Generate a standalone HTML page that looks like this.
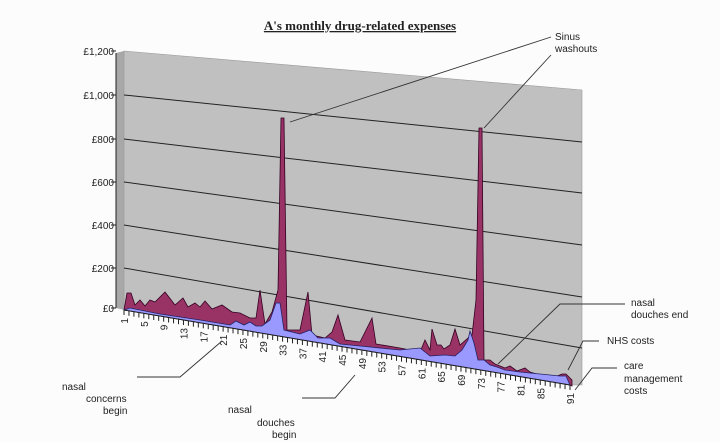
<!DOCTYPE html>
<html><head><meta charset="utf-8"><style>
body{margin:0;background:#fdfdfd}
svg{display:block}
text{font-family:"Liberation Sans",sans-serif;font-size:10px;fill:#222}
</style></head><body>
<svg width="720" height="442" viewBox="0 0 720 442">
<rect width="720" height="442" fill="#fcfcfc"/>
<text x="360" y="30" text-anchor="middle" style="font-family:'Liberation Serif',serif;font-weight:bold;font-size:13px;text-decoration:underline">A's monthly drug-related expenses</text>
<polygon points="116,53 124,51 124,310 116,308" fill="#a8a8a8"/>
<polygon points="124,51 582,90 582,385 570,385 124,310" fill="#c0c0c0" stroke="#999" stroke-width="0.6"/>
<g stroke="#222" stroke-width="1" fill="none">
<line x1="124" y1="95" x2="582" y2="142"/>
<line x1="124" y1="139" x2="582" y2="193"/>
<line x1="124" y1="182" x2="582" y2="245"/>
<line x1="124" y1="225" x2="582" y2="297"/>
<line x1="124" y1="268" x2="582" y2="348"/>
<line x1="116" y1="53" x2="116" y2="308"/>
</g>
<g text-anchor="end">
<text x="114" y="55">£1,200</text>
<text x="114" y="99">£1,000</text>
<text x="114" y="143">£800</text>
<text x="114" y="186">£600</text>
<text x="114" y="229">£400</text>
<text x="114" y="272">£200</text>
<text x="114" y="312">£0</text>
</g>
<g stroke="#222"><line x1="111" y1="51" x2="116" y2="51"/><line x1="111" y1="95" x2="116" y2="95"/><line x1="111" y1="139" x2="116" y2="139"/><line x1="111" y1="182" x2="116" y2="182"/><line x1="111" y1="225" x2="116" y2="225"/><line x1="111" y1="268" x2="116" y2="268"/><line x1="111" y1="308" x2="116" y2="308"/></g>
<polygon fill="#993366" stroke="#330022" stroke-width="0.8" points="124,310 127,293 131,293 135,305 140,300 145,306 150,300 155,302 165,292 175,305 183,298 188,307 195,303 200,307 205,301 212,309 222,305 232,312 240,313 250,318 256,318 260,290 265,324 272,312 278,290 281,118 284,118 287,330 300,330 308,292 312,335 325,338 332,332 338,315 345,340 360,342 372,318 376,344 400,348 420,352 425,340 430,350 432,329 437,345 441,345 444,349 450,345 455,329 460,345 468,338 472,335 476,300 479,128 482,128 484,360 490,360 495,364 505,368 510,366 517,371 525,368 530,372 540,375 555,377 562,374 566,374 572,380 572,386 570,385"/>
<polygon fill="#9999ff" stroke="#222266" stroke-width="0.8" points="124,310 130,308 160,314 200,320 230,325 236,321 244,325 250,322 256,326 262,326 270,320 276,303 280,303 284,330 300,334 310,330 318,338 330,338 340,344 360,346 400,350 420,348 430,356 445,355 455,356 462,350 468,340 470,331 474,343 478,360 484,360 490,365 497,367 505,370 520,372 540,374 560,376 566,376 570,385"/>
<line x1="124" y1="310" x2="570" y2="385" stroke="#222" stroke-width="1"/>
<g id="ticks" stroke="#222" stroke-width="1"></g>
<g id="lbl"></g>
<g stroke="#333" stroke-width="0.9" fill="none">
<polyline points="551,37 290,122"/>
<polyline points="551,55 484,128"/>
<polyline points="137,377 180,377 222,341"/>
<polyline points="302,398 335,398 355,375"/>
<polyline points="625,304 560,304 498,364"/>
<polyline points="599,341 583,341 568,370"/>
<polyline points="617,368 592,368 575,390"/>
</g>
<text x="555" y="40">Sinus</text>
<text x="555" y="52">washouts</text>
<text x="62" y="390">nasal</text>
<text x="86" y="402">concerns</text>
<text x="103" y="414">begin</text>
<text x="228" y="413">nasal</text>
<text x="257" y="426">douches</text>
<text x="272" y="438">begin</text>
<text x="631" y="306">nasal</text>
<text x="631" y="318">douches end</text>
<text x="607" y="344">NHS costs</text>
<text x="624" y="369">care</text>
<text x="624" y="382">management</text>
<text x="624" y="394">costs</text>
</svg>
<script>
(function(){
var ns="http://www.w3.org/2000/svg",t=document.getElementById("ticks"),l=document.getElementById("lbl");
for(var i=1;i<=91;i++){
 var x=124+(i-1)*446/90,y=310+(x-124)*75/446;
 var ln=document.createElementNS(ns,"line");
 ln.setAttribute("x1",x);ln.setAttribute("y1",y);ln.setAttribute("x2",x);ln.setAttribute("y2",y+5);t.appendChild(ln);
 if((i-1)%4==0&&i<=85||i==91){
  var tx=document.createElementNS(ns,"text");
  tx.setAttribute("transform","translate("+(x+4)+","+(y+8)+") rotate(-90)");
  tx.setAttribute("text-anchor","end");tx.textContent=i;l.appendChild(tx);
 }
}
})();
</script>
</body></html>
